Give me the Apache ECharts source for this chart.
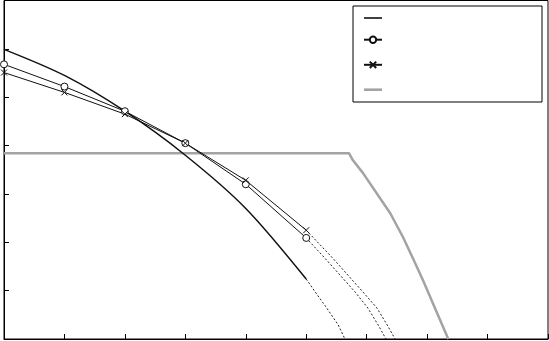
<!DOCTYPE html>
<html>
<head>
<meta charset="utf-8">
<script src="https://cdn.jsdelivr.net/npm/echarts@6/dist/echarts.min.js"></script>
<style>html,body{margin:0;padding:0;background:#fff}#c{width:549px;height:341px}</style>
</head>
<body>
<div id="c"></div>
<script>
// series A: solid black curve (no markers)
const solidA = [[0, 5.99], [1, 5.45], [2, 4.71], [3, 3.80], [4, 2.70], [5, 1.24]];
const dottedA = [[5, 1.24], [5.15, 0.97], [5.34, 0.64], [5.53, 0.29], [5.64, 0.0]];
// series B: circles
const solidB = [[0, 5.68], [1, 5.22], [2, 4.71], [3, 4.05], [4, 3.20], [5, 2.09]];
const dottedB = [[5, 2.09], [5.31, 1.67], [5.56, 1.32], [5.81, 0.97], [6.02, 0.64], [6.19, 0.29], [6.32, 0.0]];
// series C: crosses
const solidC = [[0, 5.51], [1, 5.10], [2, 4.65], [3, 4.05], [4, 3.28], [5, 2.25]];
const dottedC = [[5, 2.25], [5.44, 1.67], [5.69, 1.32], [5.94, 0.97], [6.17, 0.64], [6.34, 0.29], [6.47, 0.0]];
// series D: gray
const grayD = [[0, 3.84], [5.71, 3.84], [5.77, 3.70], [5.94, 3.43], [6.39, 2.60], [6.60, 2.11], [6.78, 1.63], [6.93, 1.22], [7.35, 0.0]];

const crossPath = 'path://M0,0L10,10M10,0L0,10';
const barPathA = 'path://M0,0L18,0L18,1.6L0,1.6Z';
const barPathD = 'path://M0,0L18,0L18,2.6L0,2.6Z';

const chart = echarts.init(document.getElementById('c'), null, {renderer: 'canvas'});
chart.setOption({
  animation: false,
  backgroundColor: '#fff',
  grid: {left: 4, right: 1, top: 0.5, bottom: 2, show: true, borderColor: '#000', borderWidth: 1, containLabel: false},
  legend: {
    right: 7, top: 6,
    orient: 'vertical',
    data: [
      {name: 'A', icon: barPathA},
      {name: 'B'},
      {name: 'C'},
      {name: 'D', icon: barPathD}
    ],
    formatter: () => '',
    itemWidth: 18, itemHeight: 8, itemGap: 16.7,
    padding: [8, 159, 11, 10],
    borderColor: '#000', borderWidth: 1, backgroundColor: '#fff',
    textStyle: {fontSize: 1}
  },
  xAxis: {
    type: 'value', min: 0, max: 9, interval: 1,
    axisLine: {lineStyle: {color: '#000', width: 1}},
    axisTick: {inside: true, length: 5, lineStyle: {color: '#000'}},
    axisLabel: {show: false}, splitLine: {show: false}
  },
  yAxis: {
    type: 'value', min: 0, max: 7, interval: 1,
    axisLine: {lineStyle: {color: '#000', width: 1}},
    axisTick: {inside: true, length: 5, lineStyle: {color: '#000'}},
    axisLabel: {show: false}, splitLine: {show: false}
  },
  series: [
    {name: 'A', type: 'line', data: solidA, smooth: 0.3, showSymbol: false, symbol: 'none',
      lineStyle: {color: '#111', width: 1.5}, itemStyle: {color: '#111'}, z: 4},
    {name: 'A', type: 'line', data: dottedA, symbol: 'none',
      lineStyle: {color: '#222', width: 1, type: [2, 2]}},
    {name: 'B', type: 'line', data: solidB, symbol: 'circle', symbolSize: 7,
      lineStyle: {color: '#111', width: 1}, itemStyle: {color: '#fff', borderColor: '#111', borderWidth: 1}, z: 5},
    {name: 'B', type: 'line', data: dottedB, symbol: 'none',
      lineStyle: {color: '#222', width: 1, type: [2, 2]}},
    {name: 'C', type: 'line', data: solidC, symbol: crossPath, symbolSize: 6,
      lineStyle: {color: '#111', width: 1}, itemStyle: {color: '#111', borderColor: '#111', borderWidth: 1}, z: 5},
    {name: 'C', type: 'line', data: dottedC, symbol: 'none',
      lineStyle: {color: '#222', width: 1, type: [2, 2]}},
    {name: 'D', type: 'line', data: grayD, symbol: 'none',
      lineStyle: {color: '#a3a3a3', width: 2.5}, itemStyle: {color: '#a3a3a3'}, z: 3}
  ]
});
</script>
</body>
</html>
